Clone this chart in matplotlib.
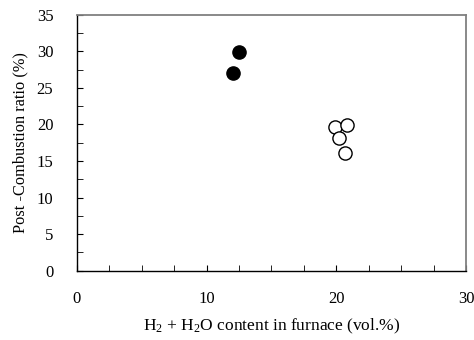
import matplotlib
matplotlib.use("Agg")
import matplotlib.pyplot as plt
from matplotlib.ticker import MultipleLocator

plt.rcParams['font.family'] = ['Liberation Serif', 'DejaVu Serif']
plt.rcParams['mathtext.fontset'] = 'custom'
plt.rcParams['mathtext.rm'] = 'Liberation Serif'
plt.rcParams['mathtext.it'] = 'Liberation Serif:italic'

filled_x = [12.0, 12.5]
filled_y = [27.0, 29.9]
open_x = [19.9, 20.8, 20.2, 20.7]
open_y = [19.7, 19.9, 18.2, 16.1]

fig = plt.figure(figsize=(4.74, 3.40), dpi=100)
ax = fig.add_axes([0.1624, 0.2044, 0.8206, 0.7515])

ax.plot(filled_x, filled_y, 'o', ms=9.5, mfc='black', mec='black', mew=1.0, ls='none')
ax.plot(open_x, open_y, 'o', ms=9.5, mfc='white', mec='black', mew=1.0, ls='none')

ax.set_xlim(0, 30)
ax.set_ylim(0, 35)
ax.xaxis.set_major_locator(MultipleLocator(10))
ax.xaxis.set_minor_locator(MultipleLocator(2.5))
ax.yaxis.set_major_locator(MultipleLocator(5))
ax.yaxis.set_minor_locator(MultipleLocator(2.5))
ax.tick_params(which='both', direction='in', top=False, right=False, labelsize=12, colors='black')
ax.tick_params(which='major', length=4)
ax.tick_params(which='minor', length=4)
ax.tick_params(axis='x', pad=15)
ax.tick_params(axis='y', pad=17)

for s in ['top', 'right']:
    ax.spines[s].set_color('#808080')
    ax.spines[s].set_linewidth(1.3)
for s in ['left', 'bottom']:
    ax.spines[s].set_color('black')
    ax.spines[s].set_linewidth(1.0)

ax.set_xlabel('H$_2$ + H$_2$O content in furnace (vol.%)', fontsize=12.5, labelpad=7)
ax.set_ylabel('Post -Combustion ratio (%)', fontsize=11.8, labelpad=6)

fig.savefig('out.png', dpi=100)
